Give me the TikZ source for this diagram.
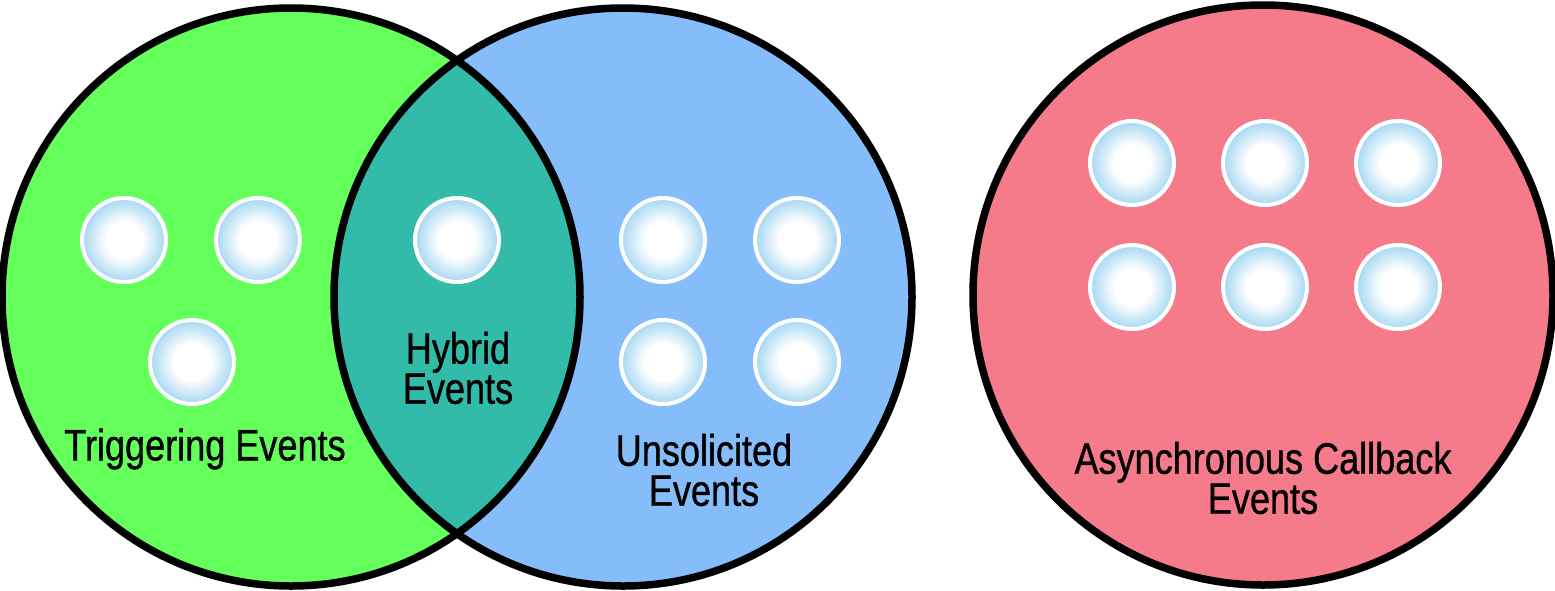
\documentclass[tikz,border=0pt]{standalone}
\usepackage{fontspec}
\setmainfont{Liberation Sans}[FakeStretch=0.82,FakeBold=0.8]
\definecolor{vgreen}{RGB}{100,255,90}
\definecolor{vblue}{RGB}{133,189,250}
\definecolor{vteal}{RGB}{51,187,170}
\definecolor{vred}{RGB}{245,122,138}
\definecolor{bubedge}{RGB}{165,215,242}
\pgfdeclareradialshading{bubshade}{\pgfpointorigin}{color(0bp)=(white); color(11bp)=(white); color(25bp)=(bubedge); color(50bp)=(bubedge)}
\begin{document}
\begin{tikzpicture}[x=1pt,y=-1pt,
  bubble/.style={circle, minimum size=84pt, inner sep=0pt, draw=white, line width=4pt,
    shading=bubshade},
  lbl/.style={font=\fontsize{44}{40}\selectfont, align=center, text=black},
  ring/.style={draw=black, line width=7.5pt}]
\useasboundingbox (0,0) rectangle (1555,590);
% venn fills
\fill[vgreen] (291,297) circle (289);
\fill[vblue] (623,297) circle (289);
\begin{scope}
  \clip (291,297) circle (289);
  \fill[vteal] (623,297) circle (289);
\end{scope}
\fill[vred] (1263,295) circle (290);
\draw[ring] (291,297) circle (289);
\draw[ring] (623,297) circle (289);
\draw[ring] (1263,295) circle (290);
% bubbles
\node[bubble] (t1) at (124,240) {};
\node[bubble] (t2) at (258,240) {};
\node[bubble] (t3) at (192,362) {};
\node[bubble] (h1) at (457,240) {};
\node[bubble] (u1) at (663,240) {};
\node[bubble] (u2) at (797,240) {};
\node[bubble] (u3) at (663,362) {};
\node[bubble] (u4) at (797,362) {};
\node[bubble] (a1) at (1132,163) {};
\node[bubble] (a2) at (1265,163) {};
\node[bubble] (a3) at (1398,163) {};
\node[bubble] (a4) at (1132,287) {};
\node[bubble] (a5) at (1265,287) {};
\node[bubble] (a6) at (1398,287) {};
% labels
\node[lbl] (trig) at (205,449) {Triggering Events};
\node[lbl] (hyb) at (458,368) {Hybrid\\Events};
\node[lbl] (uns) at (704,470) {Unsolicited\\Events};
\node[lbl] (asy) at (1263,478) {Asynchronous Callback\\Events};
\end{tikzpicture}
\end{document}
